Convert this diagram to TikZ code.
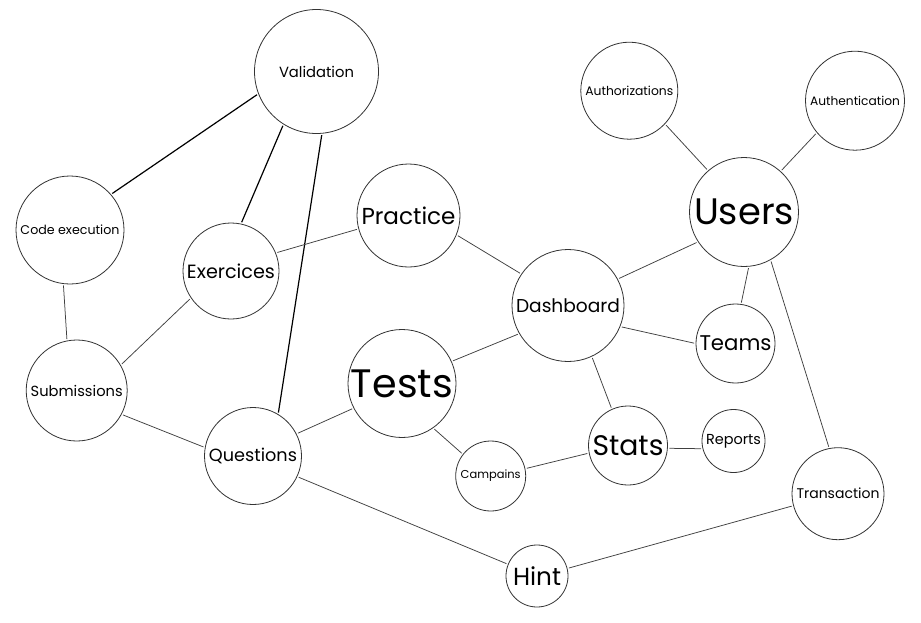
\documentclass[tikz,border=0pt]{standalone}
\usepackage{fontspec}
\setmainfont{Poppins}
\usepackage{graphicx}
\newcommand\bublabel[2]{\resizebox{#1pt}{!}{#2}}
\tikzset{
  bub/.style={circle, draw=black!80, line width=0.8pt, inner sep=0pt, fill=white},
  link/.style={draw=black!75, line width=0.75pt, shorten <=1.5pt, shorten >=1.5pt},
  thicklink/.style={draw=black, line width=1.2pt, shorten <=1.5pt, shorten >=1.5pt}
}
\begin{document}
\begin{tikzpicture}[x=1pt,y=-1pt]
\useasboundingbox (0,0) rectangle (921,622);
\fill[white] (0,0) rectangle (921,622);

\node[bub, minimum size=124pt] (val) at (316.5,71.5) {\bublabel{75}{Validation}};
\node[bub, minimum size=108pt] (code) at (70,230) {\bublabel{99}{Code execution}};
\node[bub, minimum size=96pt] (exer) at (231,271) {\bublabel{88}{Exercices}};
\node[bub, minimum size=103pt] (prac) at (408.5,215.5) {\bublabel{94}{Practice}};
\node[bub, minimum size=97pt] (authz) at (629.3,90.7) {\bublabel{88}{Authorizations}};
\node[bub, minimum size=99pt] (authn) at (855,100.7) {\bublabel{90}{Authentication}};
\node[bub, minimum size=109pt] (users) at (744,212) {\bublabel{100}{Users}};
\node[bub, minimum size=112pt] (dash) at (568,305.5) {\bublabel{104}{Dashboard}};
\node[bub, minimum size=101pt] (subm) at (76.7,390.5) {\bublabel{92}{Submissions}};
\node[bub, minimum size=97pt] (quest) at (253,456) {\bublabel{88}{Questions}};
\node[bub, minimum size=108pt] (tests) at (402,383.5) {\bublabel{102}{Tests}};
\node[bub, minimum size=79pt] (teams) at (735.5,343.5) {\bublabel{72}{Teams}};
\node[bub, minimum size=79pt] (stats) at (628,445.5) {\bublabel{71}{Stats}};
\node[bub, minimum size=63pt] (reports) at (733.5,441) {\bublabel{55}{Reports}};
\node[bub, minimum size=70pt] (camp) at (490.7,476) {\bublabel{60}{Campains}};
\node[bub, minimum size=92pt] (trans) at (838,493.7) {\bublabel{83}{Transaction}};
\node[bub, minimum size=62pt] (hint) at (537,576) {\bublabel{48}{Hint}};

\draw[thicklink] (val.201) -- (code.41);
\draw[thicklink] (val.238) -- (exer.78);
\draw[thicklink] (val.275) -- (quest.59);
\draw[link] (code.263) -- (subm.101);
\draw[link] (exer.22) -- (prac.195);
\draw[link] (exer.214) -- (subm.30);
\draw[link] (subm.-28) -- (quest.170);
\draw[link] (quest.27) -- (tests.207);
\draw[link] (quest.-25) -- (hint.158);
\draw[link] (prac.-22) -- (dash.146);
\draw[link] (tests.24) -- (dash.210);
\draw[link] (tests.-55) -- (camp.142);
\draw[link] (dash.28) -- (users.213);
\draw[link] (dash.-22) -- (teams.180);
\draw[link] (dash.-65) -- (stats.114);
\draw[link] (authz.-43) -- (users.131);
\draw[link] (users.48) -- (authn.220);
\draw[link] (users.-85) -- (teams.82);
\draw[link] (users.-61) -- (trans.101);
\draw[link] (stats.191) -- (camp.12);
\draw[link] (stats.-4) -- (reports.194);
\draw[link] (trans.195) -- (hint.14);
\end{tikzpicture}
\end{document}
